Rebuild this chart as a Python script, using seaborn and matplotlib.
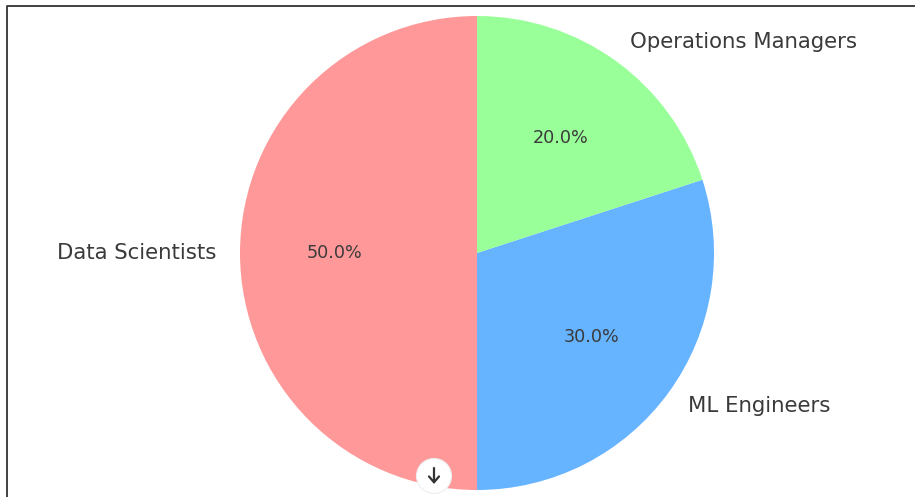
import matplotlib
matplotlib.use("Agg")
import matplotlib.pyplot as plt
import seaborn as sns
from matplotlib.patches import Circle
from matplotlib.lines import Line2D

categories = ["Data Scientists", "ML Engineers", "Operations Managers"]
shares = [50, 30, 20]
colours = ["#ff9999", "#66b3ff", "#99ff99"]

sns.set_theme(style="white")
plt.rcParams["font.family"] = ["DejaVu Sans"]

W, H = 915, 497
fig = plt.figure(figsize=(W / 100, H / 100), dpi=100, facecolor="white")

cx, cy, R = 477, 253, 237
half = 1.25 * R
ax = fig.add_axes([(cx - half) / W, (H - cy - half) / H, 2 * half / W, 2 * half / H])
wedges, texts, autotexts = ax.pie(
    shares, labels=categories, colors=sns.color_palette(colours, 3),
    autopct="%1.1f%%", startangle=90,
    wedgeprops={"linewidth": 0, "edgecolor": "none"},
    textprops={"color": "#3a3a3a", "fontsize": 15.3},
)
for t in autotexts:
    t.set_fontsize(12.7)
ax.set_aspect("equal")

# overlay in pixel coordinates for the screenshot's frame and scroll button
ov = fig.add_axes([0, 0, 1, 1], facecolor="none")
ov.set_xlim(0, W)
ov.set_ylim(H, 0)
ov.axis("off")
ov.add_line(Line2D([7, 7, W], [H, 5.5, 5.5], color="#333333", lw=1.3))
ov.add_patch(Circle((434, 476), 17.5, facecolor="white", edgecolor="#eeeeee", lw=0.8, zorder=5))
ov.annotate("", xy=(434, 484), xytext=(434, 468), zorder=6,
            arrowprops={"arrowstyle": "->,head_width=0.3,head_length=0.35", "color": "#333333",
                        "lw": 1.6, "shrinkA": 0, "shrinkB": 0})

fig.savefig("out.png", dpi=100)
